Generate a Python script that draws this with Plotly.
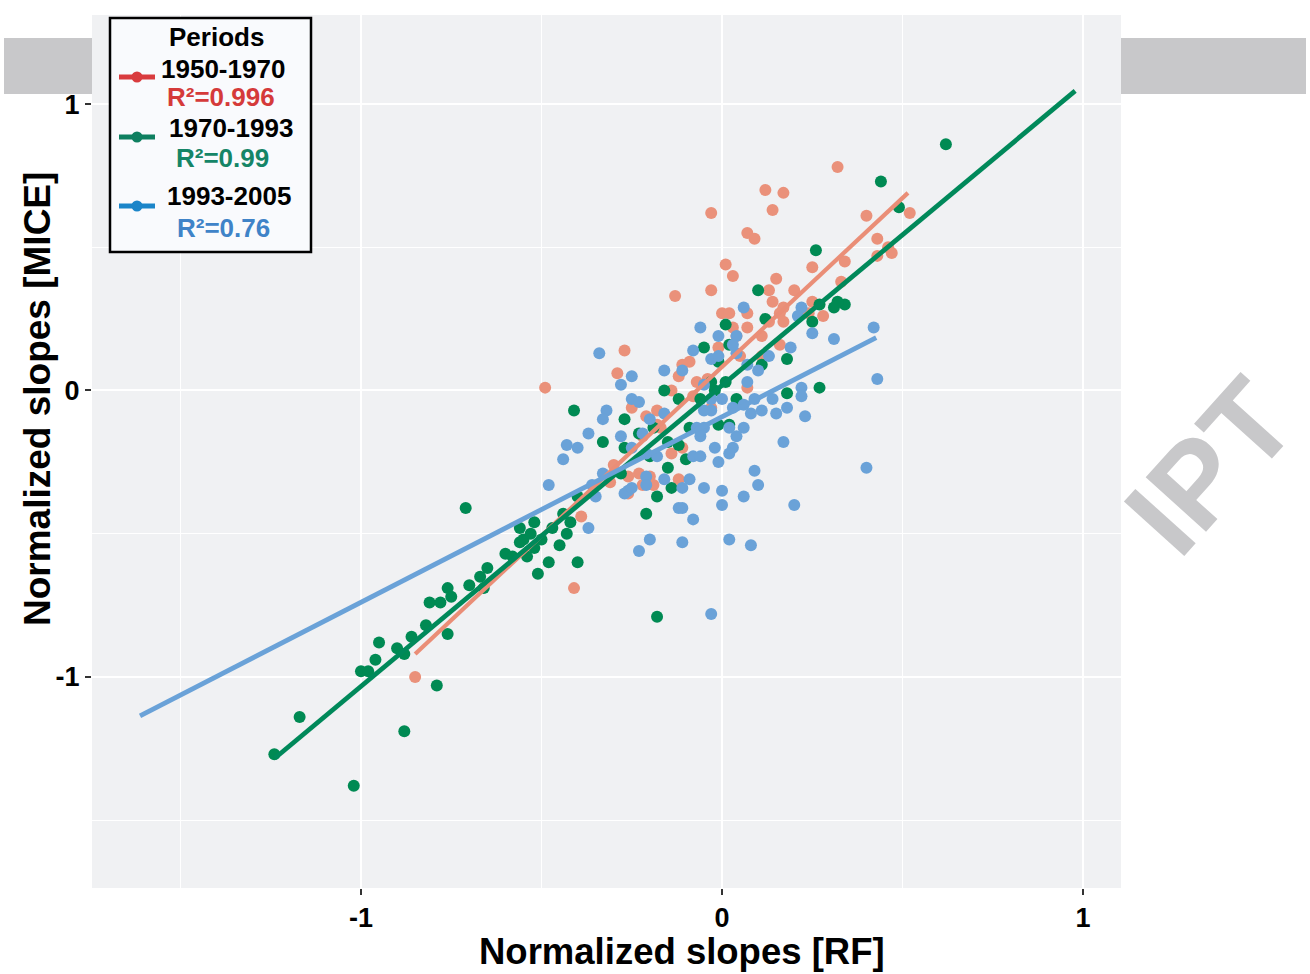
import plotly.graph_objects as go

# ---------------- data ----------------
periods = ["1950-1970", "1970-1993", "1993-2005"]
r2_labels = ["R²=0.996", "R²=0.99", "R²=0.76"]

pts_1950 = [(-0.85, -1.00), (-0.49, 0.01), (-0.41, -0.69), (-0.39, -0.44), (-0.31, -0.32), (-0.22, -0.33),
            (-0.19, -0.33), (-0.03, 0.62), (0.07, 0.55), (0.09, 0.53), (0.01, 0.44), (0.03, 0.40), (-0.03, 0.35),
            (-0.13, 0.33), (0.00, 0.27), (0.02, 0.27), (0.07, 0.27), (0.32, 0.78), (0.12, 0.70), (0.17, 0.69),
            (0.14, 0.63), (0.40, 0.61), (0.52, 0.62), (0.43, 0.53), (0.46, 0.50), (0.47, 0.48), (0.43, 0.47),
            (0.34, 0.45), (0.25, 0.43), (0.15, 0.39), (0.33, 0.38), (0.20, 0.35), (0.13, 0.35), (0.14, 0.31),
            (0.25, 0.31), (0.28, 0.26), (0.17, 0.29), (0.16, 0.27), (0.24, 0.27), (-0.27, 0.14), (-0.29, 0.06),
            (-0.25, -0.06), (-0.11, 0.09), (-0.09, 0.10), (-0.07, 0.03), (-0.12, 0.05), (-0.14, 0.00), (-0.18, -0.07),
            (-0.21, -0.09), (-0.22, -0.16), (-0.18, -0.12), (-0.14, -0.22), (-0.11, -0.20), (-0.23, -0.29),
            (-0.20, -0.30), (-0.26, -0.30), (-0.26, -0.36), (-0.12, -0.31), (0.07, 0.01), (0.11, 0.19), (0.16, 0.16),
            (0.17, 0.24), (0.13, 0.24), (0.04, 0.19), (0.07, 0.22), (0.11, 0.12), (-0.01, 0.15), (0.03, 0.22),
            (-0.03, -0.06), (-0.30, -0.26), (-0.17, -0.13), (-0.08, -0.02), (0.05, 0.12), (-0.04, 0.04)]

pts_1970 = [(-1.24, -1.27), (-1.17, -1.14), (-1.02, -1.38), (-0.88, -1.19), (-0.79, -1.03), (-1.00, -0.98),
            (-0.98, -0.98), (-0.96, -0.94), (-0.95, -0.88), (-0.90, -0.90), (-0.88, -0.92), (-0.86, -0.86),
            (-0.82, -0.82), (-0.81, -0.74), (-0.78, -0.74), (-0.76, -0.69), (-0.75, -0.72), (-0.76, -0.85),
            (-0.71, -0.41), (-0.70, -0.68), (-0.67, -0.65), (-0.65, -0.62), (-0.66, -0.69), (-0.60, -0.57),
            (-0.58, -0.58), (-0.56, -0.48), (-0.55, -0.52), (-0.53, -0.50), (-0.52, -0.46), (-0.51, -0.64),
            (-0.48, -0.60), (-0.50, -0.52), (-0.47, -0.48), (-0.45, -0.54), (-0.43, -0.50), (-0.42, -0.46),
            (-0.40, -0.60), (-0.40, -0.37), (-0.44, -0.43), (-0.54, -0.58), (-0.56, -0.53), (-0.52, -0.55),
            (-0.21, -0.43), (-0.18, -0.37), (-0.14, -0.34), (-0.18, -0.79),
            (-0.41, -0.07), (-0.27, -0.10), (-0.33, -0.18), (-0.16, 0.00), (-0.12, -0.03), (-0.05, 0.15),
            (0.01, 0.23), (0.02, 0.16), (0.10, 0.35), (0.12, 0.25), (0.18, 0.11), (0.18, -0.01), (0.27, 0.01),
            (0.25, 0.24), (0.31, 0.29), (0.34, 0.30), (0.32, 0.31), (0.27, 0.30), (-0.01, 0.10), (0.01, 0.03),
            (0.04, -0.03), (0.02, -0.12), (-0.01, -0.12), (-0.15, -0.18), (-0.12, -0.19), (-0.10, -0.24),
            (-0.27, -0.20), (-0.23, -0.15), (-0.19, -0.13), (-0.06, -0.03), (-0.09, -0.13), (-0.03, 0.03),
            (-0.15, -0.27), (-0.20, -0.23), (-0.28, -0.29), (0.62, 0.86), (0.44, 0.73), (0.26, 0.49),
            (0.49, 0.64), (0.11, 0.09), (-0.02, 0.00)]

pts_1993 = [(-0.34, 0.13), (-0.06, 0.22), (-0.01, 0.19), (-0.16, 0.07), (-0.11, 0.07), (-0.03, 0.11), (-0.25, 0.05),
            (-0.28, 0.02), (-0.25, -0.03), (-0.23, -0.04), (-0.32, -0.07), (-0.33, -0.10), (-0.20, -0.10),
            (-0.16, -0.08), (-0.37, -0.15), (-0.28, -0.16), (-0.22, -0.15), (-0.43, -0.19), (-0.40, -0.20),
            (-0.44, -0.24), (-0.25, -0.20), (-0.21, -0.22), (-0.18, -0.23), (-0.48, -0.33), (-0.33, -0.29),
            (-0.36, -0.33), (-0.26, -0.35), (-0.21, -0.30), (-0.21, -0.33), (-0.16, -0.31), (-0.09, -0.31),
            (-0.05, -0.34), (-0.11, -0.34), (-0.08, -0.23), (-0.06, -0.23), (-0.07, -0.13), (-0.05, -0.13),
            (-0.02, -0.20), (-0.01, -0.25), (-0.03, -0.07), (-0.06, -0.16), (0.42, 0.22), (0.43, 0.04), (0.25, 0.20),
            (0.31, 0.18), (0.19, 0.15), (0.22, 0.01), (0.22, -0.02), (0.14, -0.03), (0.18, -0.06), (0.15, -0.08),
            (0.23, -0.09), (0.11, -0.07), (0.06, -0.13), (0.04, -0.16), (0.03, -0.20), (0.02, -0.22), (0.17, -0.18),
            (0.09, -0.28), (0.10, -0.33), (0.40, -0.27), (0.00, -0.35), (0.06, -0.37), (0.04, 0.19), (0.04, 0.13),
            (0.07, 0.09), (0.10, 0.07), (-0.01, 0.12), (-0.05, 0.02), (-0.03, -0.03), (0.00, -0.03), (0.03, -0.06),
            (0.06, -0.05), (0.09, -0.03), (0.08, -0.08), (-0.05, -0.07), (-0.06, -0.14), (0.02, -0.13),
            (-0.37, -0.48), (-0.35, -0.37), (-0.27, -0.36), (-0.25, -0.34), (-0.12, -0.41), (-0.11, -0.41),
            (-0.08, -0.45), (0.00, -0.40), (0.20, -0.40), (-0.20, -0.52), (-0.23, -0.56), (-0.11, -0.53),
            (0.02, -0.52), (0.08, -0.54), (-0.03, -0.78), (0.06, 0.29), (0.22, 0.29), (0.21, 0.26), (0.03, 0.16),
            (0.13, 0.12), (0.07, 0.03), (-0.08, 0.14)]

# fitted regression lines (end points)
fit_x_1950 = [-0.85, 0.515]
fit_y_1950 = [-0.92, 0.69]
fit_x_1970 = [-1.238, 0.978]
fit_y_1970 = [-1.283, 1.046]
fit_x_1993 = [-1.612, 0.427]
fit_y_1993 = [-1.136, 0.185]

tick_vals = [-1, 0, 1]
tick_text = ["-1", "0", "1"]
minor_vals = [-1.5, -0.5, 0.5]

x_title = "Normalized slopes [RF]"
y_title = "Normalized slopes [MICE]"
legend_title = "Periods"

# ---------------- styling ----------------
point_colors = ["#EA917A", "#008A53", "#6AA2D8"]
fit_colors = ["#EA8E77", "#00895A", "#6AA2D8"]
legend_line_colors = ["#D93B3E", "#0E7F60", "#1B85C9"]
r2_colors = ["#D53A3A", "#158567", "#3F83C8"]
FONT = "Liberation Sans, Arial, Helvetica, sans-serif"

L, R, T, B = 92, 189, 15, 86
W, H = 1310, 974
PW, PH = W - L - R, H - T - B


def px_x(px):
    return (px - L) / PW


def px_y(py):
    return (H - B - py) / PH


fig = go.Figure()

series_pts = [pts_1950, pts_1970, pts_1993]
for name, pts, col in zip(periods, series_pts, point_colors):
    fig.add_trace(go.Scatter(
        x=[p[0] for p in pts], y=[p[1] for p in pts], mode="markers", name=name,
        marker=dict(color=col, size=12, line=dict(width=0)), showlegend=False))

fits = [(fit_x_1950, fit_y_1950), (fit_x_1970, fit_y_1970), (fit_x_1993, fit_y_1993)]
widths = [4.2, 4.8, 4.8]
for name, (fx, fy), col, w in zip(periods, fits, fit_colors, widths):
    fig.add_trace(go.Scatter(x=fx, y=fy, mode="lines", name=name + " fit",
                             line=dict(color=col, width=w), showlegend=False))

axis_common = dict(
    tickmode="array", tickvals=tick_vals, ticktext=tick_text,
    showgrid=True, gridcolor="white", gridwidth=2.4,
    zeroline=False, showline=False,
    ticks="outside", ticklen=6, tickwidth=1.5, tickcolor="#333333",
    tickfont=dict(family=FONT, size=27, color="black", weight="bold"),
    minor=dict(tickmode="array", tickvals=minor_vals, showgrid=True,
               gridcolor="white", gridwidth=1.2, ticks=""),
)
fig.update_xaxes(range=[-1.745, 1.105], **axis_common)
fig.update_yaxes(range=[-1.737, 1.311], **axis_common)

shapes = []
annotations = []

# watermark-like grey header bands outside the panel
shapes.append(dict(type="rect", xref="paper", yref="paper", x0=px_x(4), x1=0, y0=px_y(94), y1=px_y(38),
                   fillcolor="#C8C8CA", line=dict(width=0), layer="below"))
shapes.append(dict(type="rect", xref="paper", yref="paper", x0=1, x1=px_x(1306), y0=px_y(94), y1=px_y(38),
                   fillcolor="#C8C8CA", line=dict(width=0), layer="below"))
annotations.append(dict(text="IPT", xref="paper", yref="paper", x=px_x(1210), y=px_y(466),
                        xanchor="center", yanchor="middle", showarrow=False, textangle=-48,
                        font=dict(family=FONT, size=118, color="#C8C8CA", weight="bold")))

# legend box
shapes.append(dict(type="rect", xref="paper", yref="paper", x0=px_x(110), x1=px_x(311),
                   y0=px_y(252), y1=px_y(18), fillcolor="#F9FAFD", line=dict(color="black", width=2.5),
                   layer="above"))
annotations.append(dict(text=legend_title, xref="paper", yref="paper", x=px_x(216), y=px_y(37),
                        xanchor="center", yanchor="middle", showarrow=False,
                        font=dict(family=FONT, size=26, color="black", weight="bold")))

sym_y = [77, 137, 206]
name_pos = [(223, 69), (231, 128), (229, 196)]
r2_pos = [(221, 97), (222, 158), (223, 228)]
for i in range(3):
    shapes.append(dict(type="line", xref="paper", yref="paper", x0=px_x(119), x1=px_x(155),
                       y0=px_y(sym_y[i]), y1=px_y(sym_y[i]), line=dict(color=legend_line_colors[i], width=5),
                       layer="above"))
    shapes.append(dict(type="circle", xref="paper", yref="paper", xsizemode="pixel", ysizemode="pixel",
                       xanchor=px_x(137), yanchor=px_y(sym_y[i]), x0=-5.5, x1=5.5, y0=-5.5, y1=5.5,
                       fillcolor=legend_line_colors[i], line=dict(width=0), layer="above"))
    annotations.append(dict(text=periods[i], xref="paper", yref="paper", x=px_x(name_pos[i][0]),
                            y=px_y(name_pos[i][1]), xanchor="center", yanchor="middle", showarrow=False,
                            font=dict(family=FONT, size=26, color="black", weight="bold")))
    annotations.append(dict(text=r2_labels[i], xref="paper", yref="paper", x=px_x(r2_pos[i][0]),
                            y=px_y(r2_pos[i][1]), xanchor="center", yanchor="middle", showarrow=False,
                            font=dict(family=FONT, size=26, color=r2_colors[i], weight="bold")))

# axis titles
annotations.append(dict(text=x_title, xref="paper", yref="paper", x=px_x(682), y=px_y(951),
                        xanchor="center", yanchor="middle", showarrow=False,
                        font=dict(family=FONT, size=36.5, color="black", weight="bold")))
annotations.append(dict(text=y_title, xref="paper", yref="paper", x=px_x(37), y=px_y(399),
                        xanchor="center", yanchor="middle", showarrow=False, textangle=-90,
                        font=dict(family=FONT, size=37, color="black", weight="bold")))

fig.update_layout(
    width=W, height=H, margin=dict(l=L, r=R, t=T, b=B, autoexpand=False),
    paper_bgcolor="white", plot_bgcolor="#F0F1F3", showlegend=False,
    font=dict(family=FONT, color="black"),
    shapes=shapes, annotations=annotations,
)

fig.write_html("out.html")
